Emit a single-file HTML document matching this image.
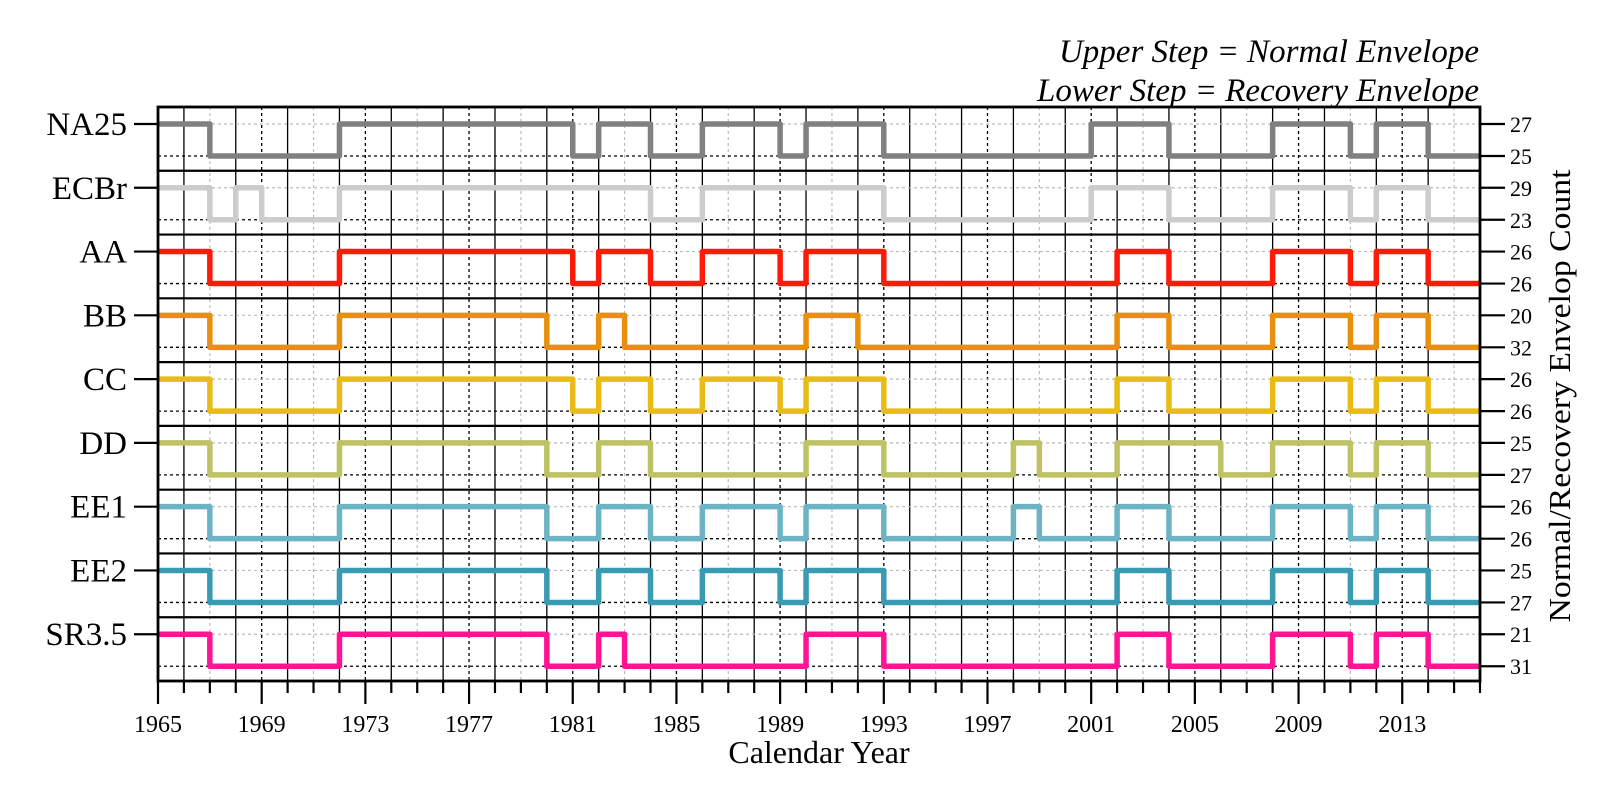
<!DOCTYPE html>
<html><head><meta charset="utf-8"><style>
html,body{margin:0;padding:0;background:#fff;}
svg{display:block;font-family:"Liberation Serif",serif;}
</style></head><body>
<svg id="chart" width="1600" height="800" viewBox="0 0 1600 800">
<g id="grid"></g>
<g id="series"></g>
<g id="axes"></g>
<text x="1479" y="62" text-anchor="end" font-size="33" font-style="italic">Upper Step = Normal Envelope</text>
<text x="1479" y="101" text-anchor="end" font-size="33" font-style="italic">Lower Step = Recovery Envelope</text>
<text x="819" y="763" text-anchor="middle" font-size="32">Calendar Year</text>
<text transform="translate(1570,396) rotate(-90)" text-anchor="middle" font-size="31" textLength="453" lengthAdjust="spacingAndGlyphs">Normal/Recovery Envelop Count</text>
</svg>
<script>
const seriesNames = ["NA25","ECBr","AA","BB","CC","DD","EE1","EE2","SR3.5"];
const seriesColors = ["#808080","#cccccc","#ff1a0a","#e8900c","#e8bc14","#bec264","#6cb4c4","#3a9ab2","#ff1493"];
const upperLabels = ["27","29","26","20","26","25","26","25","21"];
const lowerLabels = ["25","23","26","32","26","27","26","27","31"];
const startYear = 1965;
const endYear = 2016;
const tickYears = [1965,1969,1973,1977,1981,1985,1989,1993,1997,2001,2005,2009,2013];
const NA25 = [1,1,0,0,0,0,0,1,1,1,1,1,1,1,1,1,0,1,1,0,0,1,1,1,0,1,1,1,0,0,0,0,0,0,0,0,1,1,1,0,0,0,0,1,1,1,0,1,1,0,0];
const ECBr = [1,1,0,1,0,0,0,1,1,1,1,1,1,1,1,1,1,1,1,0,0,1,1,1,1,1,1,1,0,0,0,0,0,0,0,0,1,1,1,0,0,0,0,1,1,1,0,1,1,0,0];
const AA   = [1,1,0,0,0,0,0,1,1,1,1,1,1,1,1,1,0,1,1,0,0,1,1,1,0,1,1,1,0,0,0,0,0,0,0,0,0,1,1,0,0,0,0,1,1,1,0,1,1,0,0];
const BB   = [1,1,0,0,0,0,0,1,1,1,1,1,1,1,1,0,0,1,0,0,0,0,0,0,0,1,1,0,0,0,0,0,0,0,0,0,0,1,1,0,0,0,0,1,1,1,0,1,1,0,0];
const CC   = [1,1,0,0,0,0,0,1,1,1,1,1,1,1,1,1,0,1,1,0,0,1,1,1,0,1,1,1,0,0,0,0,0,0,0,0,0,1,1,0,0,0,0,1,1,1,0,1,1,0,0];
const DD   = [1,1,0,0,0,0,0,1,1,1,1,1,1,1,1,0,0,1,1,0,0,0,0,0,0,1,1,1,0,0,0,0,0,1,0,0,0,1,1,1,1,0,0,1,1,1,0,1,1,0,0];
const EE1  = [1,1,0,0,0,0,0,1,1,1,1,1,1,1,1,0,0,1,1,0,0,1,1,1,0,1,1,1,0,0,0,0,0,1,0,0,0,1,1,0,0,0,0,1,1,1,0,1,1,0,0];
const EE2  = [1,1,0,0,0,0,0,1,1,1,1,1,1,1,1,0,0,1,1,0,0,1,1,1,0,1,1,1,0,0,0,0,0,0,0,0,0,1,1,0,0,0,0,1,1,1,0,1,1,0,0];
const SR35 = [1,1,0,0,0,0,0,1,1,1,1,1,1,1,1,0,0,1,0,0,0,0,0,0,0,1,1,1,0,0,0,0,0,0,0,0,0,1,1,0,0,0,0,1,1,1,0,1,1,0,0];
const seriesValues = [NA25,ECBr,AA,BB,CC,DD,EE1,EE2,SR35];

const NS = "http://www.w3.org/2000/svg";
const L = 158, R = 1480, T = 107, B = 681;
const panelH = (B - T) / seriesNames.length;
function xScale(yr){ return L + (yr - startYear) * (R - L) / (endYear - startYear); }
function panelTop(k){ return T + k * panelH; }
function yScale(k, v){ return panelTop(k) + (v ? 17 : 49); }
function mk(tag, attrs, parent){
  const e = document.createElementNS(NS, tag);
  for (const a in attrs) e.setAttribute(a, attrs[a]);
  parent.appendChild(e);
  return e;
}
const grid = document.getElementById('grid');
const axes = document.getElementById('axes');
const ser = document.getElementById('series');

for (let yr = startYear + 1; yr < endYear; yr++) {
  const x = xScale(yr);
  let attrs;
  if ((yr - startYear) % 2 === 1) attrs = {stroke:"#000","stroke-width":1.3};
  else if (tickYears.includes(yr)) attrs = {stroke:"#000","stroke-width":1.3,"stroke-dasharray":"3,3"};
  else attrs = {stroke:"#bbb","stroke-width":1.2,"stroke-dasharray":"3,3"};
  attrs.x1 = x; attrs.x2 = x; attrs.y1 = T; attrs.y2 = B;
  const g = mk('line', attrs, grid);
  
  
}
seriesNames.forEach((name, k) => {
  const yu = yScale(k, 1), yl = yScale(k, 0);
  const gu = mk('line', {x1:L,x2:R,y1:yu,y2:yu,stroke:"#bbb","stroke-width":1.2,"stroke-dasharray":"3,3"}, grid);
  
  
  const gl = mk('line', {x1:L,x2:R,y1:yl,y2:yl,stroke:"#000","stroke-width":1.3,"stroke-dasharray":"3,3"}, grid);
  
  

  const vals = seriesValues[k];
  let d = "M" + xScale(startYear) + " " + yScale(k, vals[0]);
  for (let i = 1; i < vals.length; i++) {
    const x = xScale(startYear + i);
    if (vals[i] !== vals[i-1]) d += " L" + x + " " + yScale(k, vals[i-1]) + " L" + x + " " + yScale(k, vals[i]);
  }
  d += " L" + xScale(startYear + vals.length) + " " + yScale(k, vals[vals.length-1]);
  const p = mk('path', {d:d, fill:"none", stroke:seriesColors[k], "stroke-width":5.5, "stroke-linejoin":"round"}, ser);
  
  

  if (k > 0) {
    const sep = mk('line', {x1:L,x2:R,y1:panelTop(k),y2:panelTop(k),stroke:"#000","stroke-width":2.2}, axes);
    
    
  }
  const lt = mk('line', {x1:134,x2:L,y1:yu,y2:yu,stroke:"#000","stroke-width":2.2}, axes);
  
  
  const lab = mk('text', {x:127,y:yu+11,"text-anchor":"end","font-size":33}, axes);
  lab.textContent = name;
  
  
  [[yu, upperLabels[k]], [yl, lowerLabels[k]]].forEach(([y, t]) => {
    const rt = mk('line', {x1:R,x2:1505,y1:y,y2:y,stroke:"#000","stroke-width":2.2}, axes);
    
    
    const rl = mk('text', {x:1510,y:y+8,"font-size":22}, axes);
    rl.textContent = t;
    
    
  });
});
const frame = mk('rect', {x:L,y:T,width:R-L,height:B-T,fill:"none",stroke:"#000","stroke-width":2.8}, axes);


for (let yr = startYear; yr <= endYear; yr++) {
  const x = xScale(yr);
  const major = tickYears.includes(yr);
  const t = mk('line', {x1:x,x2:x,y1:B,y2:major ? 704 : 693,stroke:"#000","stroke-width":2.2}, axes);
  
  
}
tickYears.forEach(yr => {
  const t = mk('text', {x:xScale(yr),y:732,"text-anchor":"middle","font-size":24}, axes);
  t.textContent = yr;
  
  
});
</script>
</body></html>
